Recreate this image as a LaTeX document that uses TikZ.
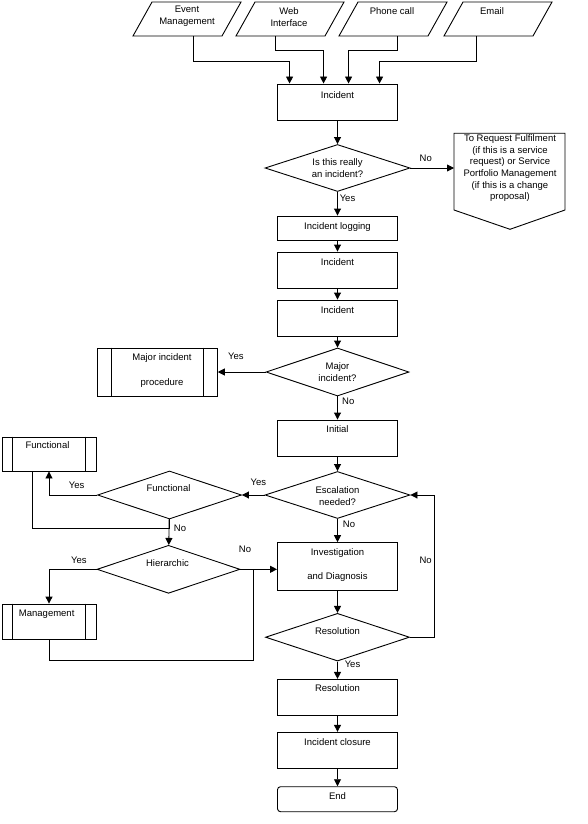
\documentclass[tikz,border=0pt]{standalone}
\usepackage{fontspec}
\setmainfont{Liberation Sans}
\usetikzlibrary{arrows.meta,shapes.geometric,calc}
\begin{document}
\begin{tikzpicture}[x=1pt,y=-1pt,
  line/.style={draw=black, line width=0.9pt},
  arr/.style={line, -{Triangle[length=7pt,width=7pt]}},
  box/.style={line, rectangle, minimum width=120pt, inner sep=0pt},
  dia/.style={line, diamond, inner sep=0pt, aspect=3},
  txt/.style={font=\fontsize{9.5}{12}\selectfont, align=center, inner sep=0pt},
]
\useasboundingbox (0,0) rectangle (588,824);

% --- sources (parallelograms)
\draw[line] (133,36) -- (152,2) -- (241,2) -- (222,36) -- cycle;
\draw[line] (236,36) -- (255,2) -- (344,2) -- (325,36) -- cycle;
\draw[line] (339,36) -- (358,2) -- (447,2) -- (428,36) -- cycle;
\draw[line] (444,36) -- (463,2) -- (552,2) -- (533,36) -- cycle;
\node[txt] (p1) at (187,16.7) {Event\\Management};
\node[txt] (p2) at (289,17) {Web\\Interface};
\node[txt] (p3) at (392,10.7) {Phone call};
\node[txt] (p4) at (492,10.7) {Email};
\coordinate (s1) at (193.3,36);
\coordinate (s2) at (275.7,36);
\coordinate (s3) at (397.7,36);
\coordinate (s4) at (476.7,36);

% --- main column
\node[box, minimum height=36pt] (inc1) at (337.5,102) {};
\node[txt] (tinc1) at (337.5,95) {Incident};
\node[dia, minimum width=145pt, minimum height=47pt] (d1) at (337.5,168) {};
\node[txt] (td1) at (337.5,168) {Is this really\\an incident?};
\node[box, minimum height=24pt] (log) at (337.5,228) {};
\node[txt] (tlog) at (337.5,227) {Incident logging};
\node[box, minimum height=36pt] (inc2) at (337.5,270) {};
\node[txt] (tinc2) at (337.5,262) {Incident};
\node[box, minimum height=36pt] (inc3) at (337.5,318) {};
\node[txt] (tinc3) at (337.5,310) {Incident};
\node[dia, minimum width=143pt, minimum height=48pt] (d2) at (337.5,372) {};
\node[txt] (td2) at (337.5,372) {Major\\incident?};
\node[box, minimum height=36pt] (init) at (337.5,438) {};
\node[txt] (tinit) at (337.5,429.3) {Initial};
\node[dia, minimum width=145pt, minimum height=47pt] (d3) at (337.5,495) {};
\node[txt] (td3) at (337.5,496) {Escalation\\needed?};
\node[box, minimum height=47.3pt] (inv) at (337.5,566.3) {};
\node[txt] (tinv) at (337.5,564.7) {Investigation\\[12pt]and Diagnosis};
\node[dia, minimum width=144pt, minimum height=47.7pt] (d4) at (337.5,637.2) {};
\node[txt] (td4) at (337.5,630.7) {Resolution};
\node[box, minimum height=35.7pt] (res) at (337.5,697.2) {};
\node[txt] (tres) at (337.5,688.3) {Resolution};
\node[box, minimum height=36pt] (clo) at (337.5,750.3) {};
\node[txt] (tclo) at (337.5,741.7) {Incident closure};
\node[box, minimum height=25pt, rounded corners=3pt] (end) at (337.5,799.2) {};
\node[txt] (tend) at (337.5,796) {End};

% --- request fulfilment (off-page shape)
\draw[line] (454,133.3) -- (565,133.3) -- (565,210) -- (510,229.3) -- (454,210) -- cycle;
\node[txt, font=\fontsize{9.5}{11.6}\selectfont] (req) at (510,168.2)
  {To Request Fulfilment\\(if this is a service\\request) or Service\\Portfolio Management\\(if this is a change\\proposal)};
\coordinate (reqin) at (454,168);

% --- major incident procedure
\node[box, minimum height=48pt] (mip) at (157.3,372) {};
\draw[line] ([xshift=14.4pt]mip.north west) -- ([xshift=14.4pt]mip.south west);
\draw[line] ([xshift=-14.4pt]mip.north east) -- ([xshift=-14.4pt]mip.south east);
\node[txt] (tmip) at (162,370.5) {Major incident\\[13.6pt]procedure};

% --- left branch
\node[dia, minimum width=144pt, minimum height=48pt] (fdec) at (169.5,495) {};
\node[txt] (tfdec) at (168.5,488.3) {Functional};
\node[box, minimum width=94pt, minimum height=34pt] (fbox) at (49,454) {};
\draw[line] ([xshift=10.7pt]fbox.north west) -- ([xshift=10.7pt]fbox.south west);
\draw[line] ([xshift=-11pt]fbox.north east) -- ([xshift=-11pt]fbox.south east);
\node[txt] (tfbox) at (47.5,445) {Functional};
\node[dia, minimum width=143pt, minimum height=48pt] (hdec) at (168.5,569.3) {};
\node[txt] (thdec) at (167.5,562.7) {Hierarchic};
\node[box, minimum width=94pt, minimum height=35.3pt] (mbox) at (49,621.7) {};
\draw[line] ([xshift=10.7pt]mbox.north west) -- ([xshift=10.7pt]mbox.south west);
\draw[line] ([xshift=-11pt]mbox.north east) -- ([xshift=-11pt]mbox.south east);
\node[txt] (tmbox) at (46.7,614) {Management};
\coordinate (j1) at (253.3,569.3);

% --- connectors
\draw[arr] (s1) -- ++(0,25.7) -| ([xshift=12.5pt]inc1.north west);
\draw[arr] (s2) -- ++(0,14) -| ([xshift=46.5pt]inc1.north west);
\draw[arr] (s3) -- ++(0,14) -| ([xshift=71.5pt]inc1.north west);
\draw[arr] (s4) -- ++(0,25.7) -| ([xshift=102.5pt]inc1.north west);
\draw[arr] (inc1) -- (d1);
\draw[arr] (d1.east) -- (reqin);
\draw[arr] (d1) -- (log);
\draw[arr] (log) -- (inc2);
\draw[arr] (inc2) -- (inc3);
\draw[arr] (inc3) -- (d2);
\draw[arr] (d2.west) -- (mip.east);
\draw[arr] (d2) -- (init);
\draw[arr] (init) -- (d3);
\draw[arr] (d3.west) -- (fdec.east);
\draw[arr] (d3) -- (inv);
\draw[arr] (fdec.west) -| (fbox.south);
\draw[line] ([xshift=-16.7pt]fbox.south) -- ++(0,56.7) -| (fdec.south);
\draw[arr] (fdec) -- (hdec);
\draw[arr] (hdec.west) -| (mbox.north);
\draw[arr] (hdec.east) -- (hdec.east -| inv.west);
\draw[line] (mbox.south) -- ++(0,20.7) -| (j1);
\draw[arr] (inv) -- (d4);
\draw[arr] (d4.east) -- ++(24,0) |- (d3.east);
\draw[arr] (d4) -- (res);
\draw[arr] (res) -- (clo);
\draw[arr] (clo) -- (end);

% --- branch labels
\node[txt] (l1) at (425.8,158.3) {No};
\node[txt] (l2) at (347.5,198.3) {Yes};
\node[txt] (l3) at (235.8,356.7) {Yes};
\node[txt] (l4) at (348.3,401) {No};
\node[txt] (l5) at (258.3,482.7) {Yes};
\node[txt] (l6) at (349,524) {No};
\node[txt] (l7) at (76.7,485) {Yes};
\node[txt] (l8) at (180,528.3) {No};
\node[txt] (l9) at (78.8,560) {Yes};
\node[txt] (l10) at (245,549) {No};
\node[txt] (l11) at (425.7,560.7) {No};
\node[txt] (l12) at (352.5,664) {Yes};
\end{tikzpicture}
\end{document}
